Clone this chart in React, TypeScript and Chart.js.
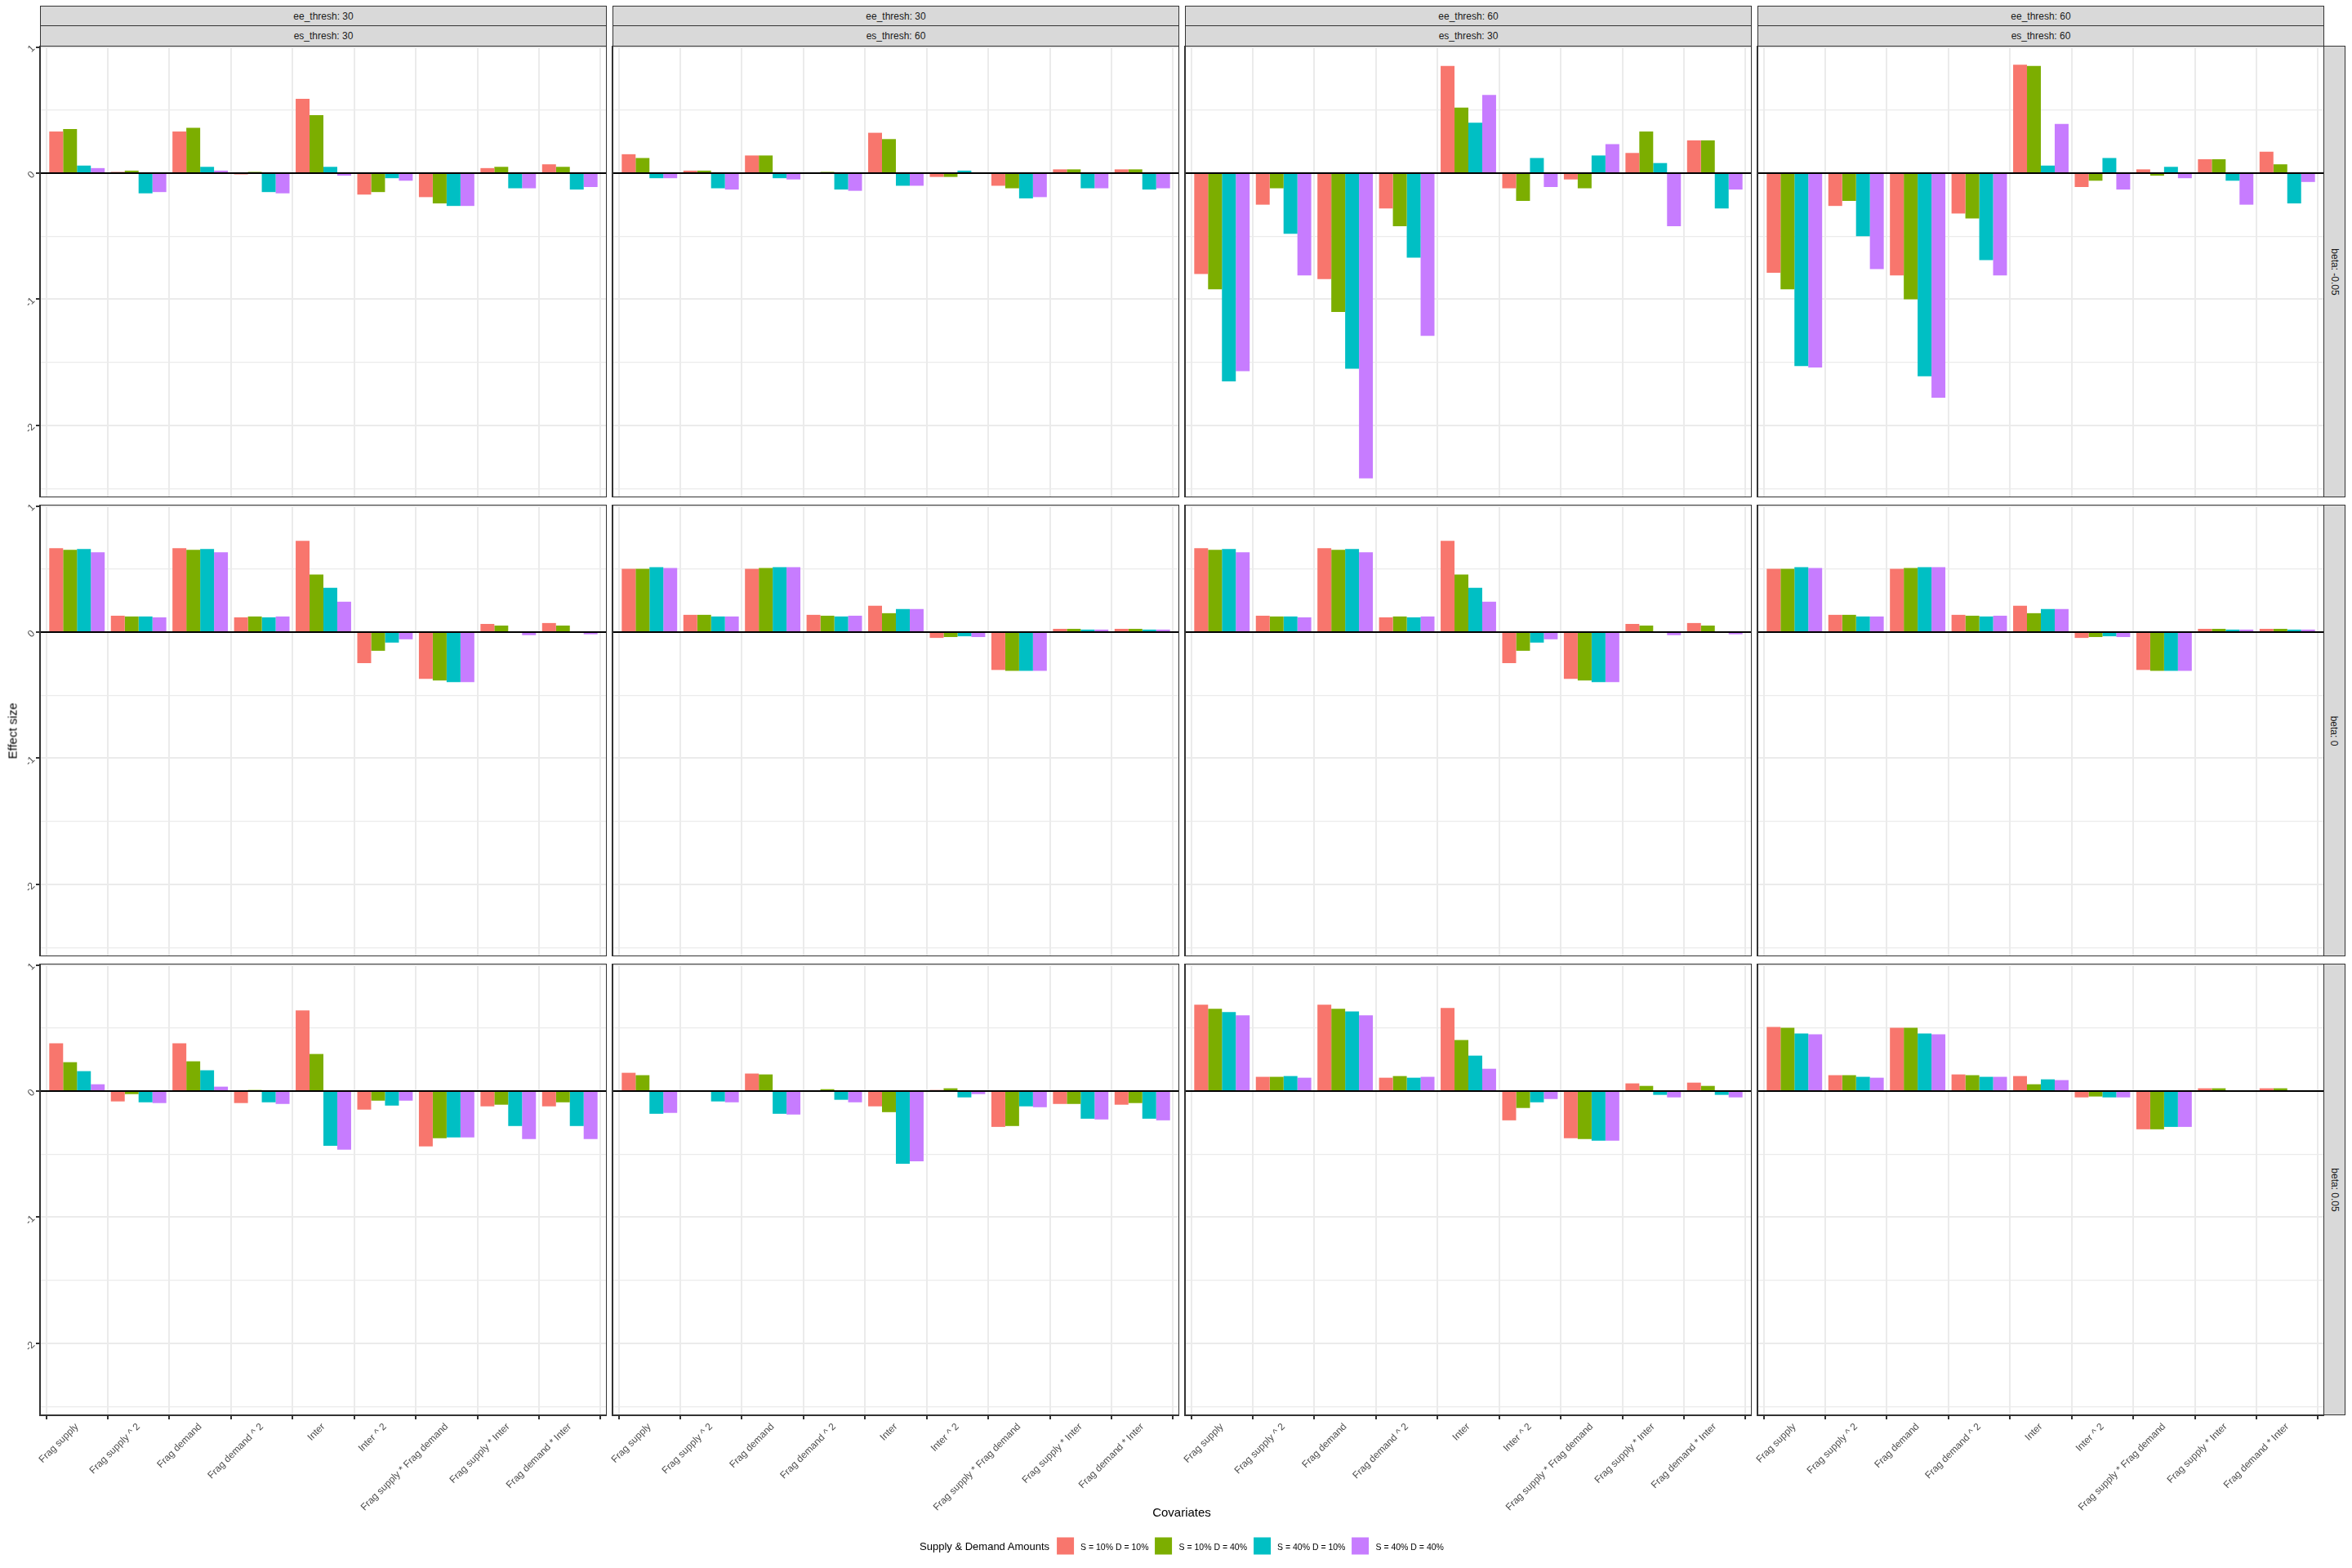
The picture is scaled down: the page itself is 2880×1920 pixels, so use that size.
import React, { useEffect, useRef } from "react";
import { Chart, registerables } from "chart.js";

Chart.register(...registerables);

// ---------- categories, series, labels ----------
const covariates = [
  "Frag supply",
  "Frag supply ^ 2",
  "Frag demand",
  "Frag demand ^ 2",
  "Inter",
  "Inter ^ 2",
  "Frag supply * Frag demand",
  "Frag supply * Inter",
  "Frag demand * Inter",
];
const seriesNames = ["S = 10% D = 10%", "S = 10% D = 40%", "S = 40% D = 10%", "S = 40% D = 40%"];
const seriesColors = ["#F8766D", "#7CAE00", "#00BFC4", "#C77CFF"];
const colStripTop = ["ee_thresh: 30", "ee_thresh: 30", "ee_thresh: 60", "ee_thresh: 60"];
const colStripBottom = ["es_thresh: 30", "es_thresh: 60", "es_thresh: 30", "es_thresh: 60"];
const rowStrips = ["beta: -0.05", "beta: 0", "beta: 0.05"];
const yTicks = [-2.5, -2, -1.5, -1, -0.5, 0, 0.5, 1];
const yMajorTicks = [-2, -1, 0, 1];
const yLimits = [-2.57, 1.01];

// ---------- values (4 series x 9 covariates per panel) ----------
// row: beta -0.05
const betaM005_ee30_es30 = [
  [0.33, 0.01, 0.33, -0.01, 0.59, -0.17, -0.19, 0.04, 0.07],
  [0.35, 0.02, 0.36, 0.01, 0.46, -0.15, -0.24, 0.05, 0.05],
  [0.06, -0.16, 0.05, -0.15, 0.05, -0.04, -0.26, -0.12, -0.13],
  [0.04, -0.15, 0.02, -0.16, -0.02, -0.06, -0.26, -0.12, -0.11],
];
const betaM005_ee30_es60 = [
  [0.15, 0.02, 0.14, 0.0, 0.32, -0.03, -0.1, 0.03, 0.03],
  [0.12, 0.02, 0.14, 0.01, 0.27, -0.03, -0.12, 0.03, 0.03],
  [-0.04, -0.12, -0.04, -0.13, -0.1, 0.02, -0.2, -0.12, -0.13],
  [-0.04, -0.13, -0.05, -0.14, -0.1, 0.0, -0.19, -0.12, -0.12],
];
const betaM005_ee60_es30 = [
  [-0.8, -0.25, -0.84, -0.28, 0.85, -0.12, -0.05, 0.16, 0.26],
  [-0.92, -0.12, -1.1, -0.42, 0.52, -0.22, -0.12, 0.33, 0.26],
  [-1.65, -0.48, -1.55, -0.67, 0.4, 0.12, 0.14, 0.08, -0.28],
  [-1.57, -0.81, -2.42, -1.29, 0.62, -0.11, 0.23, -0.42, -0.13],
];
const betaM005_ee60_es60 = [
  [-0.79, -0.26, -0.81, -0.32, 0.86, -0.11, 0.03, 0.11, 0.17],
  [-0.92, -0.22, -1.0, -0.36, 0.85, -0.06, -0.02, 0.11, 0.07],
  [-1.53, -0.5, -1.61, -0.69, 0.06, 0.12, 0.05, -0.06, -0.24],
  [-1.54, -0.76, -1.78, -0.81, 0.39, -0.13, -0.04, -0.25, -0.07],
];
// row: beta 0
const beta0_ee30_es30 = [
  [0.665, 0.13, 0.665, 0.117, 0.724, -0.246, -0.37, 0.065, 0.072],
  [0.652, 0.124, 0.652, 0.124, 0.457, -0.148, -0.383, 0.052, 0.052],
  [0.659, 0.124, 0.659, 0.117, 0.352, -0.083, -0.396, 0.0, 0.0],
  [0.633, 0.117, 0.633, 0.124, 0.241, -0.057, -0.396, -0.024, -0.017],
];
const beta0_ee30_es60 = [
  [0.502, 0.137, 0.502, 0.137, 0.209, -0.046, -0.3, 0.026, 0.026],
  [0.502, 0.137, 0.509, 0.13, 0.15, -0.039, -0.307, 0.026, 0.026],
  [0.515, 0.124, 0.515, 0.124, 0.183, -0.033, -0.307, 0.02, 0.02],
  [0.509, 0.124, 0.515, 0.13, 0.183, -0.039, -0.307, 0.02, 0.02],
];
const beta0_ee60_es30 = [
  [0.665, 0.13, 0.665, 0.117, 0.724, -0.246, -0.37, 0.065, 0.072],
  [0.652, 0.124, 0.652, 0.124, 0.457, -0.148, -0.383, 0.052, 0.052],
  [0.659, 0.124, 0.659, 0.117, 0.352, -0.083, -0.396, 0.0, 0.0],
  [0.633, 0.117, 0.633, 0.124, 0.241, -0.057, -0.396, -0.024, -0.017],
];
const beta0_ee60_es60 = [
  [0.502, 0.137, 0.502, 0.137, 0.209, -0.046, -0.3, 0.026, 0.026],
  [0.502, 0.137, 0.509, 0.13, 0.15, -0.039, -0.307, 0.026, 0.026],
  [0.515, 0.124, 0.515, 0.124, 0.183, -0.033, -0.307, 0.02, 0.02],
  [0.509, 0.124, 0.515, 0.13, 0.183, -0.039, -0.307, 0.02, 0.02],
];
// row: beta 0.05
const beta005_ee30_es30 = [
  [0.379, -0.082, 0.379, -0.095, 0.639, -0.147, -0.439, -0.121, -0.121],
  [0.229, -0.024, 0.236, 0.009, 0.294, -0.076, -0.374, -0.108, -0.089],
  [0.158, -0.089, 0.165, -0.089, -0.433, -0.115, -0.368, -0.277, -0.277],
  [0.054, -0.095, 0.035, -0.102, -0.465, -0.076, -0.368, -0.381, -0.381],
];
const beta005_ee30_es60 = [
  [0.145, 0.0, 0.139, 0.0, -0.121, 0.009, -0.284, -0.102, -0.108],
  [0.126, 0.0, 0.132, 0.015, -0.167, 0.022, -0.277, -0.102, -0.095],
  [-0.18, -0.082, -0.18, -0.069, -0.576, -0.05, -0.121, -0.219, -0.219],
  [-0.173, -0.089, -0.186, -0.089, -0.556, -0.024, -0.128, -0.225, -0.232],
];
const beta005_ee60_es30 = [
  [0.684, 0.113, 0.684, 0.106, 0.658, -0.232, -0.374, 0.061, 0.067],
  [0.652, 0.113, 0.652, 0.119, 0.405, -0.134, -0.381, 0.041, 0.041],
  [0.626, 0.119, 0.632, 0.106, 0.281, -0.089, -0.394, -0.03, -0.03],
  [0.6, 0.106, 0.6, 0.113, 0.177, -0.063, -0.394, -0.05, -0.05],
];
const beta005_ee60_es60 = [
  [0.509, 0.126, 0.502, 0.132, 0.119, -0.05, -0.303, 0.022, 0.022],
  [0.502, 0.126, 0.502, 0.126, 0.054, -0.043, -0.303, 0.022, 0.022],
  [0.457, 0.113, 0.457, 0.113, 0.093, -0.05, -0.284, 0.0, 0.0],
  [0.45, 0.106, 0.45, 0.113, 0.087, -0.05, -0.284, 0.0, 0.0],
];

const panelGrid = [
  [betaM005_ee30_es30, betaM005_ee30_es60, betaM005_ee60_es30, betaM005_ee60_es60],
  [beta0_ee30_es30, beta0_ee30_es60, beta0_ee60_es30, beta0_ee60_es60],
  [beta005_ee30_es30, beta005_ee30_es60, beta005_ee60_es30, beta005_ee60_es60],
];

// ---------- layout ----------
const FONT = "'Liberation Sans', Arial, Helvetica, sans-serif";
const COL_LEFT = [49, 750, 1451, 2152];
const ROW_TOP = [56, 618, 1180];
const PANEL_W = 694;
const PANEL_H = 553;
const Y_AXIS_W = 49;
const X_AXIS_H = 200;
const LEFT_PAD = 24;

Chart.defaults.font.family = FONT;

const framePlugin = {
  id: "facetFrame",
  afterDatasetsDraw(chart: any) {
    const { ctx, chartArea: a, scales } = chart;
    const y0 = scales.y.getPixelForValue(0);
    ctx.save();
    ctx.strokeStyle = "#000000";
    ctx.lineWidth = 2;
    ctx.beginPath();
    ctx.moveTo(a.left, y0);
    ctx.lineTo(a.right, y0);
    ctx.stroke();
    ctx.strokeStyle = "#333333";
    ctx.lineWidth = 2;
    ctx.strokeRect(a.left, a.top, a.right - a.left, a.bottom - a.top);
    ctx.restore();
  },
};

function Panel({ series, left, top, showX, showY }: any) {
  const ref = useRef<HTMLCanvasElement>(null);
  const padL = showY ? 0 : LEFT_PAD;
  const w = PANEL_W + (showY ? Y_AXIS_W : 0) + padL;
  const h = PANEL_H + (showX ? X_AXIS_H : 0);
  useEffect(() => {
    const chart = new Chart(ref.current as HTMLCanvasElement, {
      type: "bar",
      data: {
        datasets: series.map((vals: number[], s: number) => ({
          label: seriesNames[s],
          data: vals.map((v, i) => ({ x: i, y: v })),
          backgroundColor: seriesColors[s],
          borderWidth: 0,
          categoryPercentage: 0.9,
          barPercentage: 1.0,
        })),
      },
      options: {
        animation: false,
        responsive: false,
        maintainAspectRatio: false,
        devicePixelRatio: 1,
        layout: { padding: { left: padL, right: 0, top: 0, bottom: 0 } },
        plugins: { legend: { display: false }, tooltip: { enabled: false } },
        scales: {
          x: {
            type: "linear",
            min: -0.6,
            max: covariates.length - 1 + 0.6,
            offset: false,
            afterBuildTicks: (s: any) => {
              s.ticks = covariates.map((_, i) => ({ value: i }));
            },
            afterFit: (s: any) => {
              s.height = showX ? X_AXIS_H : 0;
              s.paddingLeft = 0;
              s.paddingRight = 0;
            },
            ticks: {
              display: showX,
              autoSkip: false,
              minRotation: 45,
              maxRotation: 45,
              padding: 2,
              color: "#4D4D4D",
              font: { size: 12, family: FONT },
              callback: (_v: any, i: number) => covariates[i],
            },
            grid: {
              color: "#EBEBEB",
              lineWidth: 2,
              drawTicks: showX,
              tickLength: 5,
              tickColor: "#333333",
              tickWidth: 2,
            },
            border: { display: false },
          },
          y: {
            type: "linear",
            min: yLimits[0],
            max: yLimits[1],
            afterBuildTicks: (s: any) => {
              s.ticks = yTicks.map((v) => ({ value: v }));
            },
            afterFit: (s: any) => {
              s.width = showY ? Y_AXIS_W : 0;
              s.paddingTop = 0;
              s.paddingBottom = 0;
            },
            ticks: {
              display: showY,
              autoSkip: false,
              minRotation: 45,
              maxRotation: 45,
              padding: 3,
              color: "#4D4D4D",
              font: { size: 12, family: FONT },
              callback: (v: any) => (yMajorTicks.includes(v) ? String(v) : ""),
            },
            grid: {
              color: "#EBEBEB",
              lineWidth: (c: any) => (c.tick && yMajorTicks.includes(c.tick.value) ? 2 : 1.2),
              drawTicks: showY,
              tickLength: 5,
              tickWidth: 2,
              tickColor: (c: any) =>
                c.tick && yMajorTicks.includes(c.tick.value) ? "#333333" : "rgba(0,0,0,0)",
            },
            border: { display: false },
          },
        },
      },
      plugins: [framePlugin],
    } as any);
    return () => chart.destroy();
  }, []);
  return (
    <canvas
      ref={ref}
      width={w}
      height={h}
      style={{
        position: "absolute",
        left: left - (showY ? Y_AXIS_W : 0) - padL,
        top,
        width: w,
        height: h,
      }}
    />
  );
}

const stripBase: React.CSSProperties = {
  position: "absolute",
  boxSizing: "border-box",
  background: "#D9D9D9",
  border: "1.5px solid #333333",
  color: "#1A1A1A",
  fontFamily: FONT,
  fontSize: 12,
  display: "flex",
  alignItems: "center",
  justifyContent: "center",
  whiteSpace: "nowrap",
};

export default function App() {
  return (
    <div
      style={{
        position: "fixed",
        left: 0,
        top: 0,
        width: 2880,
        height: 1920,
        background: "#FFFFFF",
        overflow: "hidden",
        fontFamily: FONT,
      }}
    >
      {COL_LEFT.map((x, c) => (
        <React.Fragment key={"cs" + c}>
          <div style={{ ...stripBase, left: x, top: 7, width: PANEL_W, height: 25 }}>{colStripTop[c]}</div>
          <div style={{ ...stripBase, left: x, top: 31, width: PANEL_W, height: 26 }}>{colStripBottom[c]}</div>
        </React.Fragment>
      ))}
      {ROW_TOP.map((y, r) => (
        <div
          key={"rs" + r}
          style={{ ...stripBase, left: COL_LEFT[3] + PANEL_W - 1, top: y, width: 27, height: PANEL_H }}
        >
          <span style={{ transform: "rotate(90deg)", display: "inline-block" }}>{rowStrips[r]}</span>
        </div>
      ))}
      {panelGrid.map((row, r) =>
        row.map((series, c) => (
          <Panel
            key={r + "-" + c}
            series={series}
            left={COL_LEFT[c]}
            top={ROW_TOP[r]}
            showX={r === ROW_TOP.length - 1}
            showY={c === 0}
          />
        ))
      )}
      <div
        style={{
          position: "absolute",
          left: 15,
          top: 895,
          transform: "translate(-50%, -50%) rotate(-90deg)",
          fontSize: 15,
          color: "#000",
          whiteSpace: "nowrap",
        }}
      >
        Effect size
      </div>
      <div
        style={{
          position: "absolute",
          left: 1447,
          top: 1851,
          transform: "translate(-50%, -50%)",
          fontSize: 15,
          color: "#000",
          whiteSpace: "nowrap",
        }}
      >
        Covariates
      </div>
      <div
        style={{
          position: "absolute",
          left: 1447,
          top: 1893,
          transform: "translate(-50%, -50%)",
          display: "flex",
          alignItems: "center",
          whiteSpace: "nowrap",
        }}
      >
        <span style={{ fontSize: 13, color: "#000", marginRight: 9 }}>Supply &amp; Demand Amounts</span>
        {seriesNames.map((n, i) => (
          <React.Fragment key={n}>
            <span style={{ width: 21, height: 21, background: seriesColors[i], display: "inline-block" }} />
            <span style={{ fontSize: 10.5, color: "#000", marginLeft: 8, marginRight: i < 3 ? 8 : 0 }}>{n}</span>
          </React.Fragment>
        ))}
      </div>
    </div>
  );
}
